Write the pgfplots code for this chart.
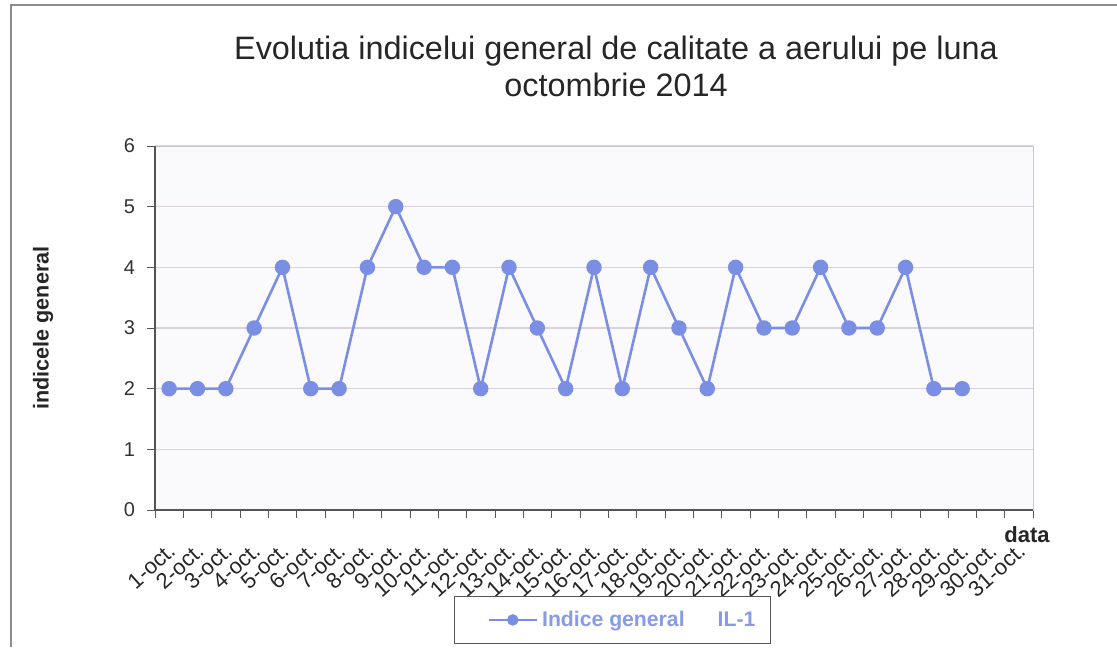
\documentclass[border=0pt]{standalone}
\usepackage{pgfplots}
\pgfplotsset{compat=1.18}
\usepackage{fontspec}
\setmainfont{Liberation Sans}
\definecolor{serie}{RGB}{122,142,228}
\definecolor{legtxt}{RGB}{135,155,232}
\definecolor{gridc}{RGB}{218,210,218}
\definecolor{axisc}{RGB}{85,85,85}
\definecolor{boxc}{RGB}{200,200,205}
\definecolor{framec}{RGB}{140,140,140}
\begin{document}
\begin{tikzpicture}[x=1pt,y=1pt]
\path[use as bounding box] (0,0) rectangle (558.5,323.5);
\draw[framec, line width=0.7pt] (5.5,0) -- (5.5,321) -- (558.5,321);
\node[font=\fontsize{16.2}{18.5}\selectfont, align=center, text=black!85] at (308,290.5)
  {Evolutia indicelui general de calitate a aerului pe luna\\octombrie 2014};
\begin{axis}[
  at={(77.5pt,68.5pt)}, anchor=south west,
  scale only axis, width=439pt, height=182pt,
  xmin=0.5, xmax=31.5, ymin=0, ymax=6,
  axis background/.style={fill={rgb,255:red,250;green,250;blue,252}},
  axis line style={boxc},
  xtick={1,...,31},
  xticklabels={1-oct.,2-oct.,3-oct.,4-oct.,5-oct.,6-oct.,7-oct.,8-oct.,9-oct.,10-oct.,11-oct.,12-oct.,13-oct.,14-oct.,15-oct.,16-oct.,17-oct.,18-oct.,19-oct.,20-oct.,21-oct.,22-oct.,23-oct.,24-oct.,25-oct.,26-oct.,27-oct.,28-oct.,29-oct.,30-oct.,31-oct.},
  minor xtick={0.5,1.5,...,31.5},
  major x tick style={draw=none},
  minor x tick style={axisc},
  minor tick length=4pt,
  ytick={0,1,...,6},
  ytick style={axisc},
  major tick length=4pt,
  tick align=outside,
  xtick pos=bottom, ytick pos=left,
  /pgf/number format/assume math mode=true,
  ymajorgrids, grid style={gridc, line width=0.6pt},
  xticklabel style={xshift=-1pt, yshift=-7pt, rotate=42, anchor=north east, font=\fontsize{11}{12}\selectfont, text=black!85},
  yticklabel style={xshift=-2.5pt, font=\fontsize{10}{11}\selectfont, text=black!80},
  xlabel={data},
  xlabel style={at={(rel axis cs:1,0)}, anchor=north, yshift=-4.5pt, xshift=-3pt, font=\bfseries\fontsize{11}{12}\selectfont, text=black!85},
  ylabel={indicele general},
  ylabel style={at={(rel axis cs:0,0.5)}, anchor=center, yshift=56pt, font=\bfseries\fontsize{10.8}{12}\selectfont, text=black!85},
  legend style={at={(0.521,-0.302)}, anchor=center, draw=axisc, line width=0.5pt, fill=white,
    font=\bfseries\fontsize{10.6}{12}\selectfont, text=legtxt, inner xsep=5.5pt, inner ysep=5pt},
  legend image code/.code={\path (-11pt,0pt); \draw[#1, mark size=2.2pt, mark repeat=2, mark phase=2] plot coordinates {(0pt,0pt) (12pt,0pt) (24pt,0pt)};},
  after end axis/.code={\draw[axisc, line width=0.6pt] (rel axis cs:0,1) -- (rel axis cs:0,0) -- (rel axis cs:1,0);},
  clip=false,
]
\addplot[serie, line width=1.3pt, mark=*, mark size=3.2pt, mark options={fill=serie, draw=serie}]
  coordinates {
  (1,2) (2,2) (3,2) (4,3) (5,4) (6,2) (7,2) (8,4) (9,5) (10,4)
  (11,4) (12,2) (13,4) (14,3) (15,2) (16,4) (17,2) (18,4) (19,3) (20,2)
  (21,4) (22,3) (23,3) (24,4) (25,3) (26,3) (27,4) (28,2) (29,2)
  };
\addlegendentry{Indice general\hspace{16.5pt}IL-1}
\end{axis}
\end{tikzpicture}
\end{document}
